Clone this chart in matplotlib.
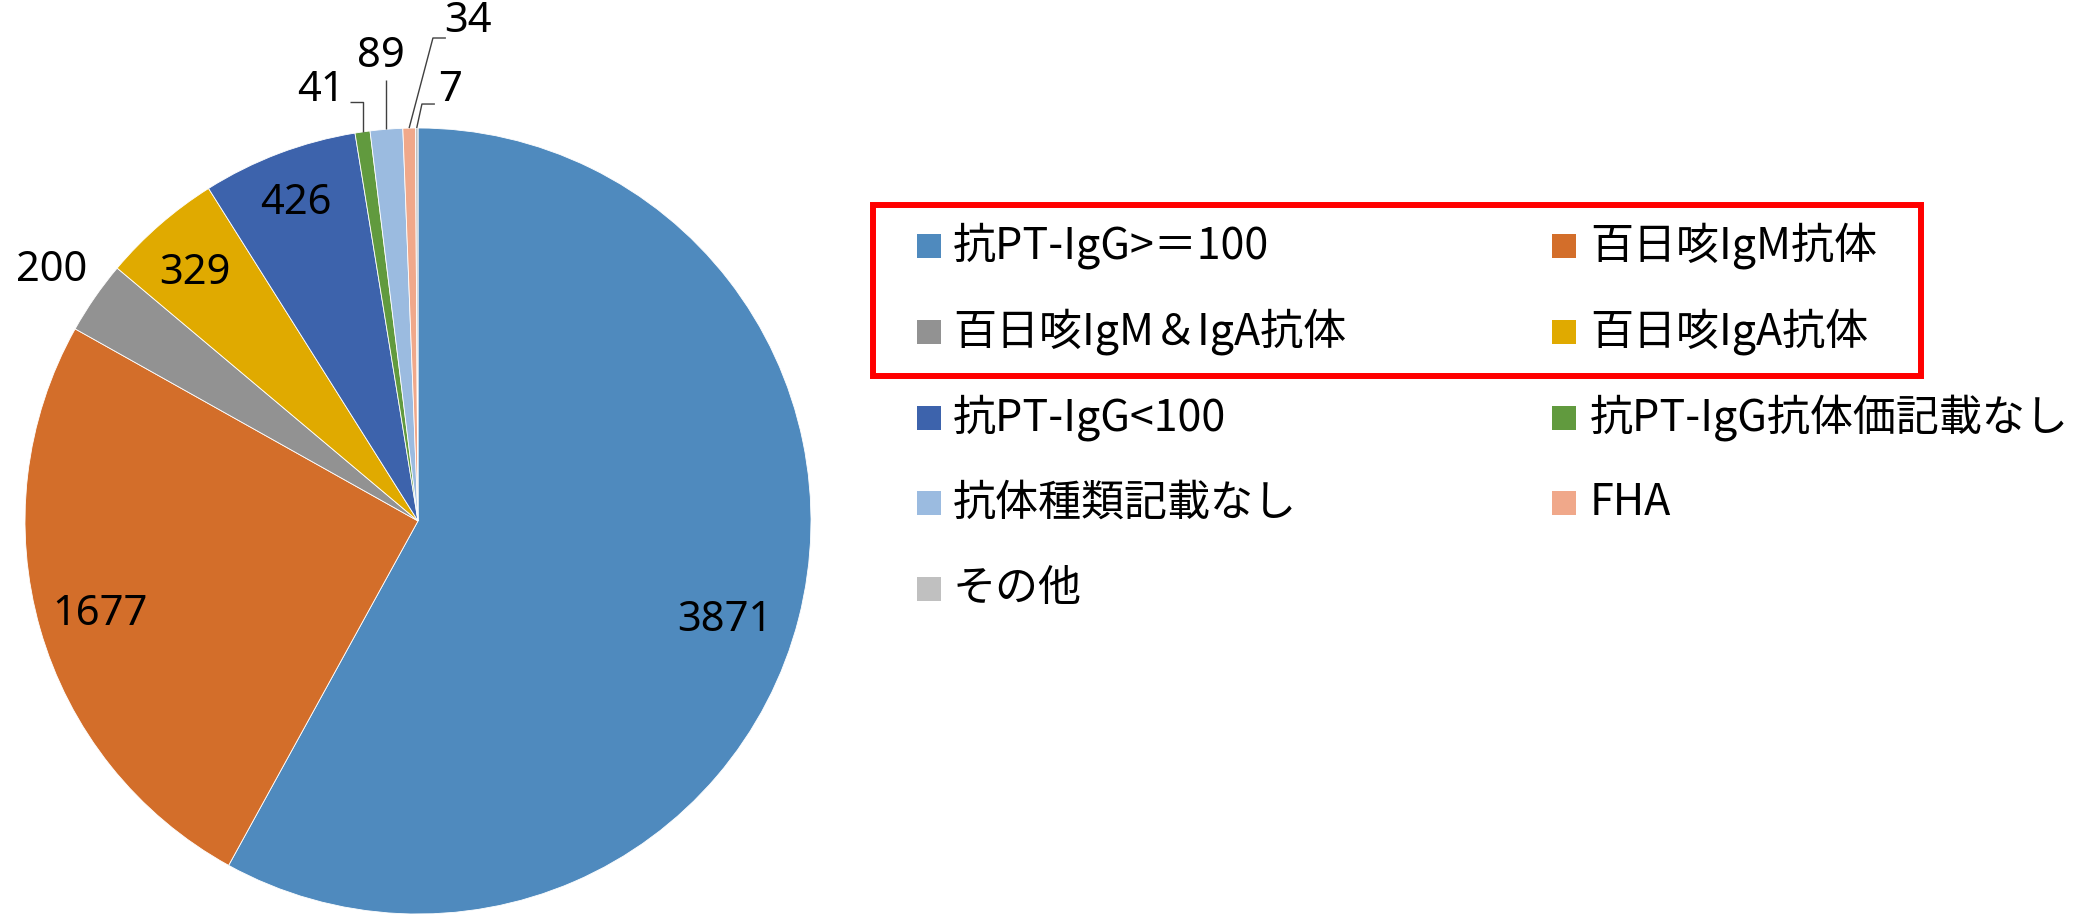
import matplotlib
matplotlib.use("Agg")
import matplotlib.pyplot as plt
from matplotlib.patches import Rectangle
import numpy as np

# ---------------- data ----------------
categories = ["抗PT-IgG>＝100", "百日咳IgM抗体", "百日咳IgM＆IgA抗体", "百日咳IgA抗体",
              "抗PT-IgG<100", "抗PT-IgG抗体価記載なし", "抗体種類記載なし", "FHA", "その他"]
values = [3871, 1677, 200, 329, 426, 41, 89, 34, 7]
colors = ["#4F8ABE", "#D36E2A", "#929292", "#E0AA00", "#3D63AC",
          "#619A3E", "#9BBBE0", "#F0A88A", "#C0C0C0"]

# ---------------- layout ----------------
W, H = 2080, 914
fig = plt.figure(figsize=(W / 100, H / 100), dpi=100)
fig.patch.set_facecolor("white")

cx, cy, R = 418, 521, 393  # pie centre / radius in pixels (from top-left)
ax = fig.add_axes([(cx - R) / W, (H - cy - R) / H, 2 * R / W, 2 * R / H])
wedges, _ = ax.pie(values, colors=colors, startangle=90, counterclock=False,
                   wedgeprops=dict(edgecolor="white", linewidth=0.6))
ax.set_xlim(-1, 1)
ax.set_ylim(-1, 1)
ax.set_aspect("equal")
ax.axis("off")

# label placement (radius factor, angle offset in degrees)
label_r = [0.82, 0.843, 1.13, 0.85, 0.866, 1.124, 1.187, 1.279, 1.10]
label_dth = [-3.4, 0.3, 0.3, 0.9, 0.3, 4.6, 0.0, -7.0, -4.4]
# leader lines for small slices
leaders = {
    5: "vert", 6: "vert", 7: [(0.038, 1.229), (0.071, 1.229)], 8: [(0.010, 1.061), (0.043, 1.061)],
}
leader_y = {5: 1.066, 6: 1.122}
leader_xend = {5: -0.173}

num_font = dict(family=["Noto Sans", "DejaVu Sans"], fontsize=30, color="black")
for i, (w, v) in enumerate(zip(wedges, values)):
    mid = 0.5 * (w.theta1 + w.theta2)
    a = np.deg2rad(mid + label_dth[i])
    lx, ly = label_r[i] * np.cos(a), label_r[i] * np.sin(a)
    ax.text(lx, ly, str(v), ha="center", va="center", **num_font)
    if i in leaders:
        ex, ey = np.cos(np.deg2rad(mid)), np.sin(np.deg2rad(mid))
        if leaders[i] == "vert":
            pts = [(ex, ey), (ex, leader_y[i])]
            if i in leader_xend:
                pts.append((leader_xend[i], leader_y[i]))
        else:
            pts = [(ex, ey)] + leaders[i]
        xs, ys = zip(*pts)
        ax.plot(xs, ys, color="#404040", lw=1.0, clip_on=False, solid_capstyle="butt")

# ---------------- legend (manual, two columns) ----------------
row_y0, row_dy = 246, 85.8
col_hx = [917, 1552]
col_tx = [953, 1590]
hw, hh = 24, 24
leg_font = dict(family=["Noto Sans CJK JP", "DejaVu Sans"], fontsize=31, color="black")
for i, (lab, c) in enumerate(zip(categories, colors)):
    r, col = divmod(i, 2)
    yc = row_y0 + r * row_dy
    fig.patches.append(Rectangle((col_hx[col] / W, (H - yc - hh / 2) / H), hw / W, hh / H,
                                 transform=fig.transFigure, facecolor=c, edgecolor="none"))
    fig.text(col_tx[col] / W, (H - yc) / H, lab, ha="left", va="center", **leg_font)

# red highlight box around first two legend rows
bx0, by0, bx1, by1 = 873, 205, 1921, 376
fig.patches.append(Rectangle((bx0 / W, (H - by1) / H), (bx1 - bx0) / W, (by1 - by0) / H,
                             transform=fig.transFigure, facecolor="none",
                             edgecolor="#FF0000", linewidth=4.3))

fig.savefig("out.png", dpi=100, facecolor="white")
